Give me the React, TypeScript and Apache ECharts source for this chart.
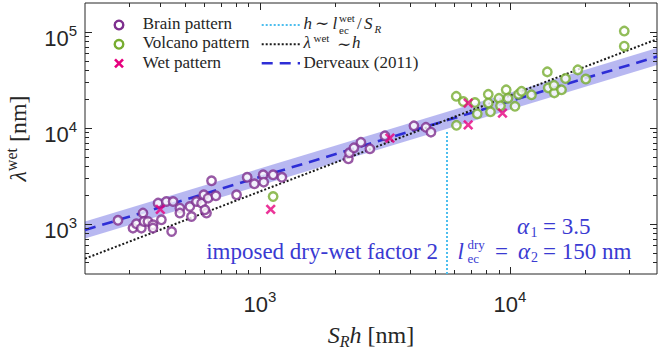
import React, { useEffect, useRef } from 'react';
import * as echarts from 'echarts';

// ---------------- data ----------------
const brainX = [271, 311, 321, 336, 341, 344, 357, 374, 374, 392, 404, 423, 450, 444, 479, 479, 525, 533, 558, 585, 597, 612, 621, 641, 667, 807, 890, 951, 1031, 1036, 1130, 1225, 603, 2259, 2280, 2377, 2535, 2754, 3162, 4130, 4613, 4831];
const brainY = [1088, 902, 1000, 902, 1293, 1057, 1057, 976, 902, 1643, 1101, 1707, 1707, 831, 1457, 1293, 1514, 1191, 1707, 1643, 2005, 1293, 1852, 2805, 1957, 2005, 3051, 2610, 3239, 2719, 3239, 3051, 1399, 4754, 5491, 6190, 7063, 6042, 8254, 10491, 10120, 9021];

const volcanoX = [1130, 6098, 6505, 7244, 7399, 6109, 8188, 8188, 8356, 9036, 9162, 9656, 9817, 10470, 10810, 11120, 12190, 14100, 14220, 15040, 14990, 16070, 16670, 18670, 20100, 28630, 28630];
const volcanoY = [1924, 21290, 18790, 18340, 13990, 10620, 22330, 18080, 14680, 20290, 16950, 24880, 20290, 16750, 22330, 24000, 22070, 38310, 26100, 23150, 27720, 24880, 32620, 40200, 32240, 101900, 70970];

const wetX = [400, 1105, 3311, 6805, 6805, 9333];
const wetY = [1416, 1416, 7812, 18080, 10750, 14230];

// fit lines (straight on log-log, two end points each)
const fitX = [200, 38700];
const derveauxY = [861, 55300];
const bandLow = [702, 45100];
const bandHigh = [1056, 67800];
const linearY = [434, 84000];
const cutX = [5600, 5600];
const cutY = [300, 9500];

// axes
const xRange = [200, 38700];
const yRange = [300, 200000];
const xMajorTicks = [1000, 10000];
const xMinorTicks = [300, 400, 500, 600, 700, 800, 900, 2000, 3000, 4000, 5000, 6000, 7000, 8000, 9000, 20000, 30000];
const yMajorTicks = [1000, 10000, 100000];
const yMinorTicks = [400, 500, 600, 700, 800, 900, 2000, 3000, 4000, 5000, 6000, 7000, 8000, 9000, 20000, 30000, 40000, 50000, 60000, 70000, 80000, 90000];

// ---------------- styles ----------------
const PURPLE = '#7E2F8E';
const GREEN = '#77AC30';
const MAGENTA = '#E6007E';
const CYAN = '#4DBEEE';
const BLUE = '#2E2ED6';
const TEXTBLUE = '#3A3AD2';
const BAND = 'rgba(46,46,214,0.34)';
const INK = '#262626';
const SERIF = '"Liberation Serif", "DejaVu Serif", serif';
const SANS = '"Liberation Sans", Arial, sans-serif';

const zip = (xs: number[], ys: number[]) => xs.map((x, i) => [x, ys[i]]);

const isPow10 = (v: number) => {
  const l = Math.log10(v);
  return Math.abs(l - Math.round(l)) < 1e-6;
};
const powLabel = (v: number) => (isPow10(v) ? `{b|10}{s|${Math.round(Math.log10(v))}}` : '');

const labelRich = {
  b: { fontSize: 22, lineHeight: 30, fontFamily: SANS, color: INK },
  s: { fontSize: 15, lineHeight: 15, verticalAlign: 'top', fontFamily: SANS, color: INK },
};

const tickStyle = { stroke: INK, lineWidth: 1 };

const xTickRender = (len: number) => (params: any, api: any) => {
  const cs = params.coordSys;
  const px = Math.round(api.coord([api.value(0), 1000])[0]) + 0.5;
  const top = cs.y;
  const bot = cs.y + cs.height;
  return {
    type: 'group',
    children: [
      { type: 'line', shape: { x1: px, y1: bot, x2: px, y2: bot - len }, style: tickStyle },
      { type: 'line', shape: { x1: px, y1: top, x2: px, y2: top + len }, style: tickStyle },
    ],
  };
};

const yTickRender = (len: number) => (params: any, api: any) => {
  const cs = params.coordSys;
  const py = Math.round(api.coord([1000, api.value(1)])[1]) + 0.5;
  const left = cs.x;
  const right = cs.x + cs.width;
  return {
    type: 'group',
    children: [
      { type: 'line', shape: { x1: left, y1: py, x2: left + len, y2: py }, style: tickStyle },
      { type: 'line', shape: { x1: right, y1: py, x2: right - len, y2: py }, style: tickStyle },
    ],
  };
};

const bandRender = (params: any, api: any) => {
  if (params.dataIndex !== 0) return null;
  const pts: number[][] = [];
  for (let i = 0; i < fitX.length; i++) pts.push(api.coord([fitX[i], bandLow[i]]));
  for (let i = fitX.length - 1; i >= 0; i--) pts.push(api.coord([fitX[i], bandHigh[i]]));
  return { type: 'polygon', shape: { points: pts }, style: { fill: BAND } };
};

// graphic helpers
const txt = (x: number, y: number, text: string, o: any = {}) => ({
  type: 'text',
  x,
  y,
  silent: true,
  style: {
    text,
    fill: o.fill || INK,
    fontFamily: SERIF,
    fontSize: o.fontSize || 17,
    fontStyle: o.italic ? 'italic' : 'normal',
    align: o.align || 'left',
    verticalAlign: 'middle',
    lineHeight: o.lineHeight,
  },
});
const hline = (x1: number, x2: number, y: number, stroke: string, dash: number[], w: number) => ({
  type: 'line',
  silent: true,
  shape: { x1, y1: y, x2, y2: y },
  style: { stroke, lineWidth: w, lineDash: dash },
});
const ann = (x: number, y: number, text: string, o: any = {}) =>
  txt(x, y, text, { fill: TEXTBLUE, fontSize: 23, lineHeight: 20, ...o });

const option: any = {
  animation: false,
  backgroundColor: '#ffffff',
  grid: {
    left: 85,
    right: 1,
    top: 3,
    bottom: 78,
    show: true,
    borderColor: INK,
    borderWidth: 1,
    containLabel: false,
    outerBoundsMode: 'none',
  },
  xAxis: {
    type: 'log',
    logBase: 10,
    min: xRange[0],
    max: xRange[1],
    axisLine: { show: false },
    axisTick: { show: false },
    splitLine: { show: false },
    axisLabel: { formatter: powLabel, margin: 15, rich: labelRich, color: INK },
    name: '{i|S}{sub|R}{i|h} [nm]',
    nameLocation: 'middle',
    nameGap: 40,
    nameTextStyle: {
      fontFamily: SERIF,
      fontSize: 24,
      lineHeight: 30,
      color: INK,
      rich: {
        i: { fontFamily: SERIF, fontSize: 24, lineHeight: 30, fontStyle: 'italic', color: INK },
        sub: { fontFamily: SERIF, fontSize: 16, lineHeight: 16, fontStyle: 'italic', verticalAlign: 'bottom', color: INK },
      },
    },
  },
  yAxis: {
    type: 'log',
    logBase: 10,
    min: yRange[0],
    max: yRange[1],
    axisLine: { show: false },
    axisTick: { show: false },
    splitLine: { show: false },
    axisLabel: { formatter: powLabel, margin: 8, rich: labelRich, color: INK, padding: [13, 0, 0, 0] },
    name: '{l|λ}{sup|wet} [nm]',
    nameLocation: 'middle',
    nameRotate: 90,
    nameGap: 52,
    nameTextStyle: {
      fontFamily: SERIF,
      fontSize: 24,
      lineHeight: 30,
      color: INK,
      rich: {
        l: { fontFamily: SERIF, fontSize: 24, lineHeight: 30, fontStyle: 'italic', color: INK },
        sup: { fontFamily: SERIF, fontSize: 16, lineHeight: 16, verticalAlign: 'top', color: INK },
      },
    },
  },
  series: [
    {
      type: 'custom',
      name: 'band',
      silent: true,
      renderItem: bandRender,
      encode: { x: 0, y: [1, 2] },
      data: fitX.map((x, i) => [x, bandLow[i], bandHigh[i]]),
      z: 1,
    },
    {
      type: 'line',
      name: 'Derveaux (2011)',
      data: zip(fitX, derveauxY),
      symbol: 'none',
      silent: true,
      lineStyle: { color: BLUE, width: 2.6, type: [11, 7] },
      z: 2,
    },
    {
      type: 'line',
      name: 'λwet ~ h',
      data: zip(fitX, linearY),
      symbol: 'none',
      silent: true,
      lineStyle: { color: '#1a1a1a', width: 2, type: [2, 2] },
      z: 3,
    },
    {
      type: 'line',
      name: 'h ~ lec/SR',
      data: zip(cutX, cutY),
      symbol: 'none',
      silent: true,
      lineStyle: { color: CYAN, width: 2, type: [2, 2] },
      z: 3,
    },
    {
      type: 'scatter',
      name: 'Brain pattern',
      data: zip(brainX, brainY),
      symbol: 'circle',
      symbolSize: 8.5,
      itemStyle: { color: '#ffffff', borderColor: PURPLE, borderWidth: 2.4 },
      z: 4,
    },
    {
      type: 'scatter',
      name: 'Volcano pattern',
      data: zip(volcanoX, volcanoY),
      symbol: 'circle',
      symbolSize: 8.5,
      itemStyle: { color: '#ffffff', borderColor: GREEN, borderWidth: 2.4 },
      z: 4,
    },
    {
      type: 'scatter',
      name: 'Wet pattern',
      data: zip(wetX, wetY),
      symbol: 'path://M0,0L10,10M10,0L0,10',
      symbolSize: 8.5,
      itemStyle: { color: 'rgba(0,0,0,0)', borderColor: MAGENTA, borderWidth: 2.6 },
      z: 5,
    },
    { type: 'custom', silent: true, renderItem: xTickRender(7), data: xMajorTicks.map((v) => [v, 1000]), z: 6 },
    { type: 'custom', silent: true, renderItem: xTickRender(4), data: xMinorTicks.map((v) => [v, 1000]), z: 6 },
    { type: 'custom', silent: true, renderItem: yTickRender(7), data: yMajorTicks.map((v) => [1000, v]), z: 6 },
    { type: 'custom', silent: true, renderItem: yTickRender(4), data: yMinorTicks.map((v) => [1000, v]), z: 6 },
  ],
  graphic: {
    elements: [
      // legend column 1
      { type: 'circle', silent: true, shape: { cx: 119, cy: 25, r: 4.3 }, style: { fill: '#fff', stroke: PURPLE, lineWidth: 2.4 } },
      { type: 'circle', silent: true, shape: { cx: 119, cy: 44.3, r: 4.3 }, style: { fill: '#fff', stroke: GREEN, lineWidth: 2.4 } },
      { type: 'line', silent: true, shape: { x1: 115, y1: 59.3, x2: 123, y2: 67.3 }, style: { stroke: MAGENTA, lineWidth: 2.6 } },
      { type: 'line', silent: true, shape: { x1: 123, y1: 59.3, x2: 115, y2: 67.3 }, style: { stroke: MAGENTA, lineWidth: 2.6 } },
      txt(142.7, 23.5, 'Brain pattern'),
      txt(142.7, 42.9, 'Volcano pattern'),
      txt(142.7, 62.3, 'Wet pattern'),
      // legend column 2
      hline(261.7, 300, 25, CYAN, [2, 2], 2),
      hline(261.7, 300, 44.3, '#1a1a1a', [2, 2], 2),
      hline(261.7, 300, 63.3, BLUE, [11, 7], 2.6),
      txt(303.5, 23.5, 'h', { italic: true }),
      txt(315, 23.5, '∼'),
      txt(332.5, 23.5, 'l', { italic: true }),
      txt(339, 18, 'wet', { fontSize: 11, lineHeight: 11 }),
      txt(339, 30, 'ec', { fontSize: 11, lineHeight: 10 }),
      txt(357, 23.5, '/'),
      txt(364, 23.5, 'S', { italic: true }),
      txt(374.5, 29, 'R', { italic: true, fontSize: 11 }),
      txt(303.5, 42.9, 'λ', { italic: true }),
      txt(313.5, 38, 'wet', { fontSize: 11 }),
      txt(337, 44.5, '∼', { lineHeight: 12 }),
      txt(352, 42.9, 'h', { italic: true }),
      txt(303.5, 62.3, 'Derveaux (2011)'),
      // annotations
      ann(438, 251, 'imposed dry-wet factor 2', { align: 'right' }),
      ann(517, 226.5, 'α', { italic: true }),
      ann(530.5, 232, '1', { fontSize: 14, lineHeight: 12 }),
      ann(543, 226.5, '= 3.5'),
      ann(457.5, 251.5, 'l', { italic: true }),
      ann(467.5, 244, 'dry', { fontSize: 13, lineHeight: 12 }),
      ann(467.5, 258.5, 'ec', { fontSize: 13, lineHeight: 11 }),
      ann(495, 251.5, '='),
      ann(518, 251.5, 'α', { italic: true }),
      ann(531, 257, '2', { fontSize: 14, lineHeight: 12 }),
      ann(543, 251.5, '= 150 nm'),
    ],
  },
};

export default function App() {
  const ref = useRef<HTMLDivElement>(null);
  useEffect(() => {
    if (!ref.current) return;
    const chart = echarts.init(ref.current, null, { renderer: 'svg' });
    chart.setOption(option);
    return () => chart.dispose();
  }, []);
  return (
    <div
      ref={ref}
      style={{ position: 'fixed', left: 0, top: 0, width: 658, height: 352, background: '#fff' }}
    />
  );
}
